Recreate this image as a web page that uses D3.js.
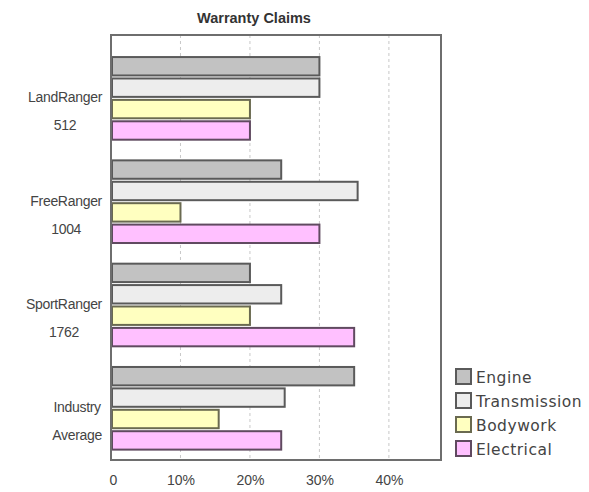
<!DOCTYPE html>
<html>
<head>
<meta charset="utf-8">
<script src="https://cdn.jsdelivr.net/npm/d3@7"></script>
<style>
  html, body { margin: 0; padding: 0; background: #fff; }
  svg { display: block; }
</style>
</head>
<body>
<svg id="chart" width="589" height="492"></svg>
<script>
// Warranty claims by model, share of claims per component (%)
const categories = [
  ["LandRanger", "512"],
  ["FreeRanger", "1004"],
  ["SportRanger", "1762"],
  ["Industry", "Average"]
];
const seriesNames = ["Engine", "Transmission", "Bodywork", "Electrical"];
const engine       = [30, 24.5, 20, 35];
const transmission = [30, 35.5, 24.5, 25];
const bodywork     = [20, 10, 20, 15.5];
const electrical   = [20, 30, 35, 24.5];
const tickValues = [0, 10, 20, 30, 40];
const tickLabels = ["0", "10%", "20%", "30%", "40%"];
const title = "Warranty Claims";

const fills   = ["#c2c2c2", "#ededed", "#ffffc0", "#ffc0ff"];
const strokes = ["#5a5a5a", "#5a5a5a", "#6a6a50", "#604a60"];

const seriesValues = [engine, transmission, bodywork, electrical];
const rows = categories.map((c, i) => ({
  key: c.join(" "),
  lines: c,
  values: seriesNames.map((s, j) => ({ name: s, value: seriesValues[j][i], idx: j }))
}));

const svg = d3.select("#chart");
const plot = { left: 111, right: 441, top: 35, bottom: 460 };

const x = d3.scaleLinear().domain([0, 47.5]).range([plot.left, plot.right]);
const y = d3.scaleBand()
  .domain(rows.map(r => r.key))
  .range([plot.top, plot.bottom])
  .paddingInner(0.2)
  .paddingOuter(0.157)
  .align(0.68);
const ySub = d3.scaleBand()
  .domain(seriesNames)
  .range([0, y.bandwidth()])
  .paddingInner(0.14)
  .paddingOuter(0);

// Title
svg.append("text")
  .attr("x", 254).attr("y", 23)
  .attr("text-anchor", "middle")
  .attr("font-family", "Liberation Sans, Arial, sans-serif")
  .attr("font-weight", "bold")
  .attr("font-size", 14.5)
  .attr("fill", "#333")
  .text(title);

// Dotted gridlines
svg.append("g")
  .selectAll("line")
  .data(tickValues.filter(v => v > 0))
  .join("line")
  .attr("x1", d => x(d)).attr("x2", d => x(d))
  .attr("y1", plot.top).attr("y2", plot.bottom)
  .attr("stroke", "#c8c8c8")
  .attr("stroke-width", 1)
  .attr("stroke-dasharray", "3,3");

// Bars
const groups = svg.append("g")
  .selectAll("g")
  .data(rows)
  .join("g")
  .attr("transform", d => `translate(0,${y(d.key)})`);

groups.selectAll("rect")
  .data(d => d.values)
  .join("rect")
  .attr("x", x(0) + 1)
  .attr("y", d => ySub(d.name))
  .attr("width", d => x(d.value) - x(0) - 1)
  .attr("height", ySub.bandwidth())
  .attr("fill", d => fills[d.idx])
  .attr("stroke", d => strokes[d.idx])
  .attr("stroke-width", 2);

// Plot frame
svg.append("rect")
  .attr("x", plot.left).attr("y", plot.top)
  .attr("width", plot.right - plot.left)
  .attr("height", plot.bottom - plot.top)
  .attr("fill", "none")
  .attr("stroke", "#6e6e6e")
  .attr("stroke-width", 2);

// X axis labels
const xAxis = d3.axisBottom(x)
  .tickValues(tickValues)
  .tickFormat((d, i) => tickLabels[i])
  .tickSize(0)
  .tickPadding(15);
const gx = svg.append("g")
  .attr("transform", `translate(0,${plot.bottom})`)
  .call(xAxis);
gx.select(".domain").remove();
gx.selectAll("text")
  .attr("font-family", "Liberation Sans, Arial, sans-serif")
  .attr("font-size", 14)
  .attr("fill", "#444");
gx.selectAll(".tick").filter(d => d === 0).select("text").attr("dx", 2);

// Category labels: lines centred within a right-aligned block
const labelFont = "Liberation Sans, Arial, sans-serif";
const labelSize = 14;
const cats = svg.append("g")
  .selectAll("g")
  .data(rows)
  .join("g");
cats.each(function (d) {
  const g = d3.select(this);
  const cy = y(d.key) + y.bandwidth() / 2;
  const texts = g.selectAll("text")
    .data(d.lines)
    .join("text")
    .attr("font-family", labelFont)
    .attr("font-size", labelSize)
    .attr("letter-spacing", -0.3)
    .attr("fill", "#444")
    .attr("text-anchor", "middle")
    .attr("y", (t, i) => cy + 4 + i * 28)
    .text(t => t);
  let maxW = 0;
  texts.each(function () { maxW = Math.max(maxW, this.getComputedTextLength()); });
  texts.attr("x", 102 - maxW / 2);
});

// Legend
const legend = svg.append("g")
  .selectAll("g")
  .data(seriesNames)
  .join("g")
  .attr("transform", (d, i) => `translate(456,${369 + i * 24})`);
legend.append("rect")
  .attr("width", 15).attr("height", 15)
  .attr("fill", (d, i) => fills[i])
  .attr("stroke", (d, i) => strokes[i])
  .attr("stroke-width", 2);
legend.append("text")
  .attr("x", 20).attr("y", 14)
  .attr("font-family", "DejaVu Sans, Verdana, sans-serif")
  .attr("font-size", 15.5)
  .attr("letter-spacing", 0.5)
  .attr("fill", "#444")
  .text(d => d);
</script>
</body>
</html>
